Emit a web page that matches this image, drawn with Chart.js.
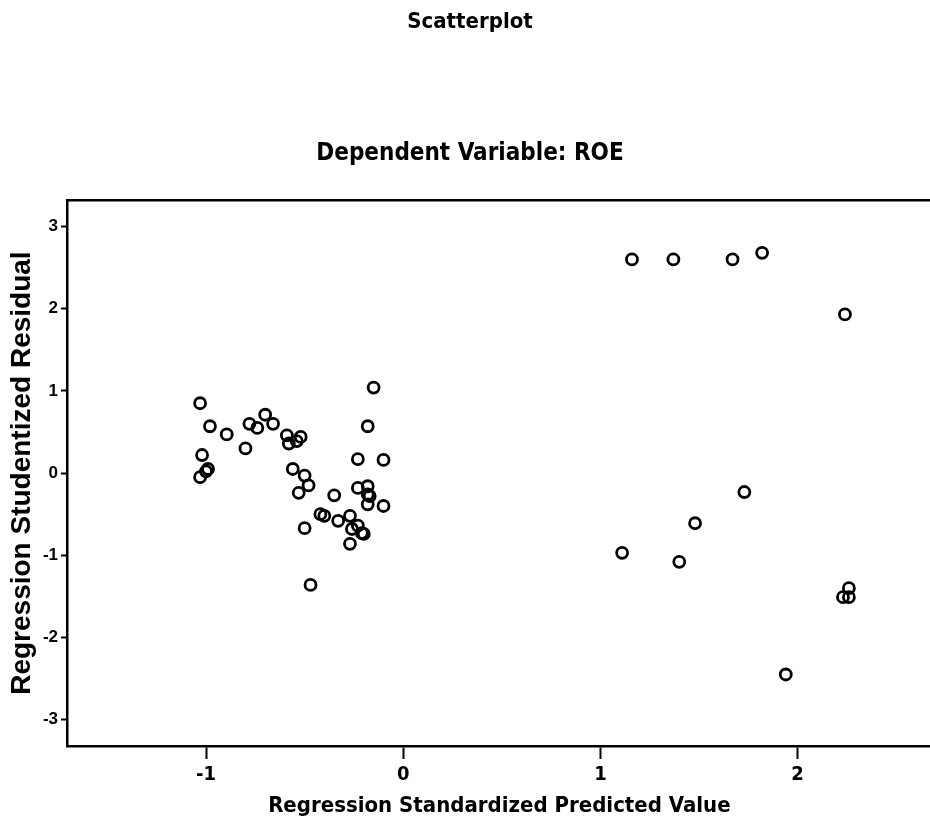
<!DOCTYPE html>
<html lang="en">

<head>
    <meta charset="UTF-8">
    <title>Scatterplot</title>
    <style>
        body { margin: 0; background: #fff; overflow: hidden; }
    </style>
</head>

<body>
    <div style="width: 930px; height: 823px; overflow: hidden;">
        <canvas id="myChart" width="940" height="823"></canvas>
    </div>

    <script src="https://cdn.jsdelivr.net/npm/chart.js"></script>

    <script>
        // standardized predicted value (x) and studentized residual (y)
        let v_predicted = [
            -1.03, -0.98, -0.895, -1.02, -0.99, -1.03, -1.00, -0.80, -0.78, -0.74,
            -0.70, -0.66, -0.59, -0.58, -0.54, -0.52, -0.56, -0.50, -0.48, -0.53,
            -0.50, -0.47, -0.42, -0.40, -0.35, -0.33, -0.27, -0.26, -0.27, -0.23,
            -0.21, -0.20, -0.23, -0.23, -0.18, -0.18, -0.17, -0.18, -0.18, -0.15,
            -0.10, -0.10,
            1.16, 1.37, 1.67, 1.82, 2.24, 1.73, 1.48, 1.11, 1.40, 2.26,
            2.23, 2.26, 1.94
        ];
        let v_residual = [
            0.85, 0.57, 0.47, 0.22, 0.05, -0.05, 0.02, 0.30, 0.60, 0.55,
            0.71, 0.60, 0.46, 0.36, 0.39, 0.44, 0.05, -0.03, -0.15, -0.24,
            -0.67, -1.36, -0.50, -0.52, -0.27, -0.58, -0.52, -0.68, -0.86, -0.64,
            -0.73, -0.74, 0.17, -0.18, -0.16, -0.26, -0.28, -0.38, 0.57, 1.04,
            0.16, -0.40,
            2.60, 2.60, 2.60, 2.68, 1.93, -0.23, -0.61, -0.97, -1.08, -1.40,
            -1.51, -1.51, -2.45
        ];
        let v_xTicks = [-1, 0, 1, 2];
        let v_yTicks = [-3, -2, -1, 0, 1, 2, 3];

        let v_points = [];
        for (let i = 0; i < v_predicted.length; i++) {
            v_points.push({ x: v_predicted[i], y: v_residual[i] });
        }

        const narrow = "'Liberation Sans Narrow', 'DejaVu Sans Condensed', sans-serif";
        const wide = "'Liberation Sans', Arial, sans-serif";

        // top frame line (left and bottom come from the axes)
        const topLine = {
            id: 'topLine',
            afterDraw(chart) {
                const a = chart.chartArea;
                const c = chart.ctx;
                c.save();
                c.strokeStyle = '#000';
                c.lineWidth = 2.5;
                c.beginPath();
                c.moveTo(a.left - 1, a.top);
                c.lineTo(a.right, a.top);
                c.stroke();
                c.restore();
            }
        };

        const ctx = document.getElementById("myChart");

        new Chart(ctx, {
            type: 'scatter',
            data: {
                datasets: [{
                    label: 'ROE',
                    data: v_points,
                    pointStyle: 'circle',
                    pointRadius: 5.5,
                    pointHoverRadius: 5.5,
                    borderWidth: 2.8,
                    borderColor: '#000',
                    backgroundColor: 'rgba(0,0,0,0)'
                }]
            },
            plugins: [topLine],
            options: {
                responsive: false,
                animation: false,
                layout: { padding: 0 },
                plugins: {
                    legend: { display: false },
                    tooltip: { enabled: false },
                    title: {
                        display: true,
                        text: 'Scatterplot',
                        color: '#000',
                        font: { family: narrow, size: 22, weight: 'bold' },
                        padding: { top: 9, bottom: 0 }
                    },
                    subtitle: {
                        display: true,
                        text: 'Dependent Variable: ROE',
                        color: '#000',
                        font: { family: narrow, size: 24, weight: 'bold' },
                        padding: { top: 104, bottom: 32 }
                    }
                },
                scales: {
                    x: {
                        type: 'linear',
                        min: -1.705,
                        max: 2.68,
                        afterBuildTicks: (axis) => { axis.ticks = v_xTicks.map(v => ({ value: v })); },
                        afterFit: (s) => { s.height = 77; },
                        border: { display: true, color: '#000', width: 2.5 },
                        grid: { drawOnChartArea: false, drawTicks: true, tickLength: 13, tickWidth: 2, tickColor: '#000' },
                        ticks: {
                            color: '#000',
                            padding: 4,
                            font: { family: narrow, size: 20, weight: 'bold' }
                        },
                        title: {
                            display: true,
                            text: 'Regression Standardized Predicted Value',
                            color: '#000',
                            font: { family: narrow, size: 22, weight: 'bold' },
                            padding: { top: 0, bottom: 4 }
                        }
                    },
                    y: {
                        type: 'linear',
                        min: -3.32,
                        max: 3.32,
                        afterBuildTicks: (axis) => { axis.ticks = v_yTicks.map(v => ({ value: v })); },
                        afterFit: (s) => { s.width = 67; },
                        border: { display: true, color: '#000', width: 2.5 },
                        grid: { drawOnChartArea: false, drawTicks: true, tickLength: 6, tickWidth: 2, tickColor: '#000' },
                        ticks: {
                            color: '#000',
                            padding: 3,
                            font: { family: wide, size: 17, weight: 'bold' }
                        },
                        title: {
                            display: true,
                            text: 'Regression Studentized Residual',
                            color: '#000',
                            font: { family: wide, size: 28, weight: 'bold' },
                            padding: { top: 5, bottom: 0 }
                        }
                    }
                }
            }
        });
    </script>

</body>

</html>
